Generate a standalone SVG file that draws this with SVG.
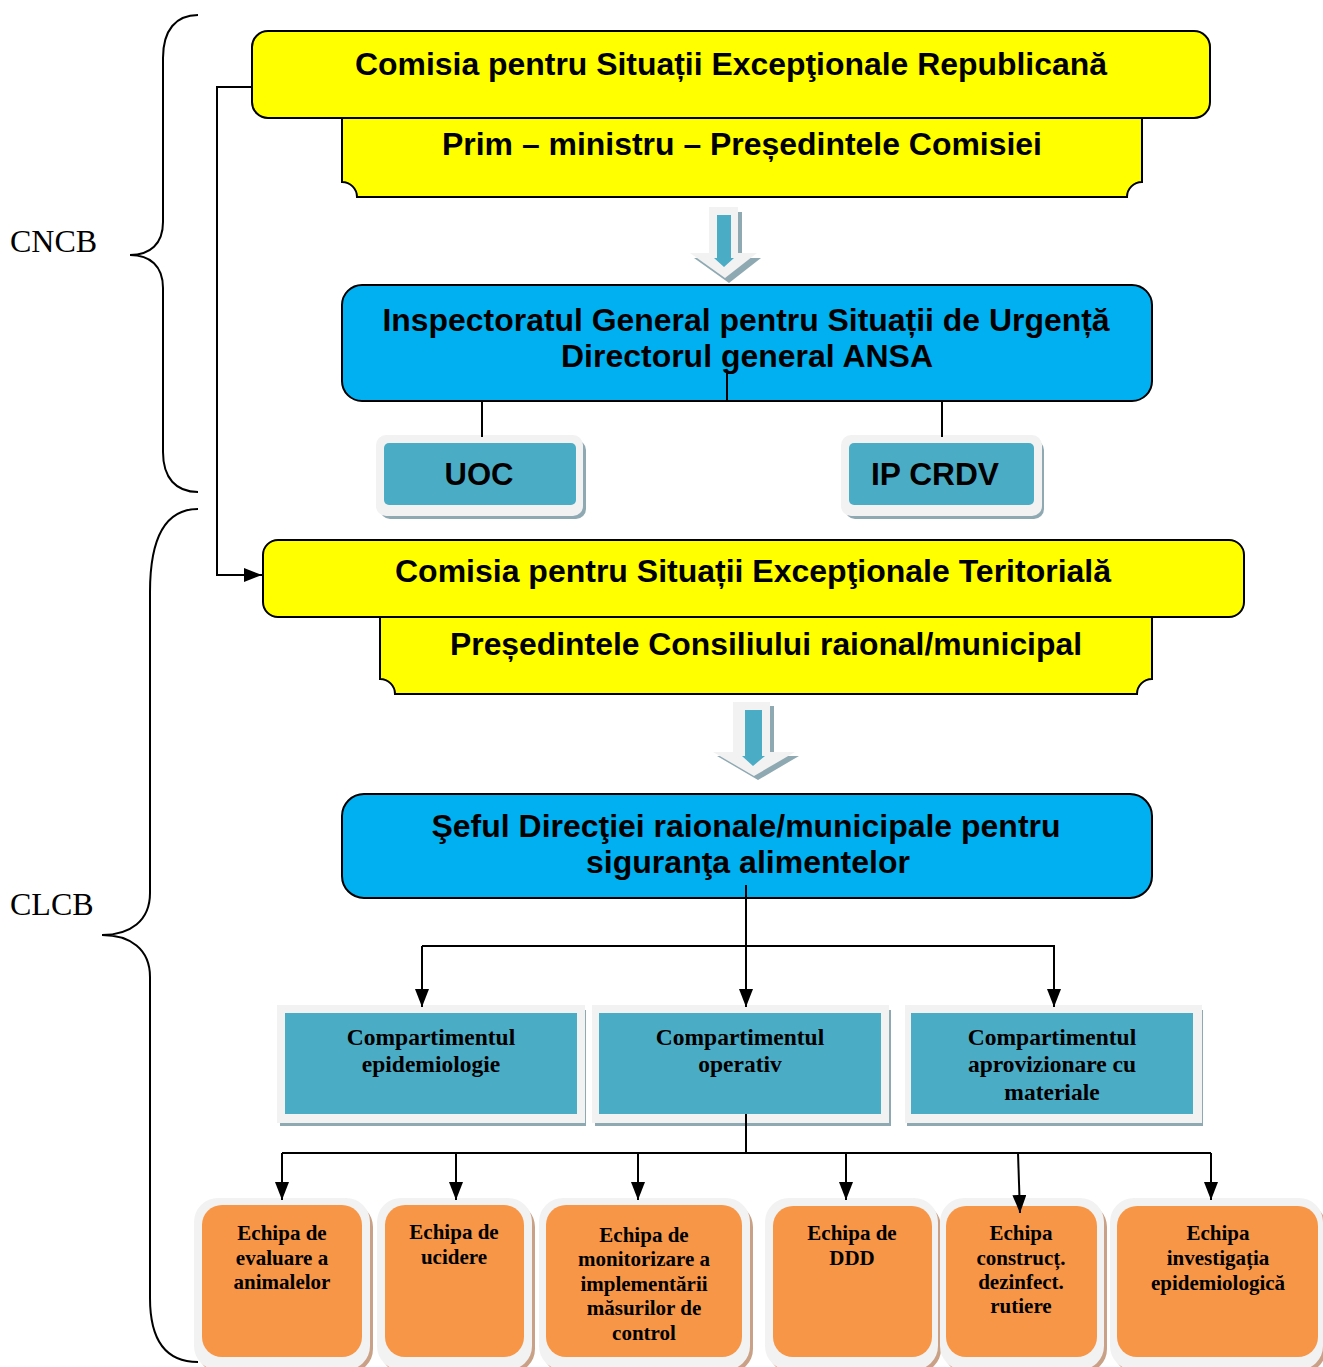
<svg xmlns="http://www.w3.org/2000/svg" width="1323" height="1367" viewBox="0 0 1323 1367">
<defs>
<style>
.sans{font-family:"Liberation Sans",Arial,sans-serif;font-weight:bold;fill:#000;text-anchor:middle}
.big{font-size:31px}
.serif{font-family:"Liberation Serif","Times New Roman",serif;font-weight:bold;fill:#000;text-anchor:middle}
.comp{font-size:23.5px}
.team{font-size:21px}
.lbl{font-family:"Liberation Serif","Times New Roman",serif;font-size:32px;fill:#000}
.yel{fill:#FFFF00;stroke:#000;stroke-width:2}
.blue{fill:#00B0F0;stroke:#000;stroke-width:2}
.light{fill:#F2F2F2}
.teal{fill:#4BACC6}
.orange{fill:#F79646}
.gshadow{fill:#8FA9B3}
.oshadow{fill:#C9A186}
.conn{fill:none;stroke:#000;stroke-width:2}
.brace{fill:none;stroke:#000;stroke-width:2}
</style>
<marker id="ah" viewBox="0 0 18 14" refX="18" refY="7" markerWidth="18" markerHeight="14" markerUnits="userSpaceOnUse" orient="auto">
<path d="M0,0 L18,7 L0,14 z" fill="#000"/>
</marker>
</defs>
<rect width="1323" height="1367" fill="#fff"/>

<!-- braces and labels -->
<g id="cncb">
<path class="brace" d="M198,15 C176,15 163,30 163,58 V222 C163,244 150,255 130,255 C150,255 163,266 163,288 V452 C163,478 176,492 198,492"/>
<text class="lbl" x="10" y="252">CNCB</text>
</g>
<g id="clcb">
<path class="brace" d="M198,509 C166,509 150,536 150,592 V893 C150,921 130,935 102,935 C130,935 150,949 150,977 V1298 C150,1343 168,1362 198,1362"/>
<text class="lbl" x="10" y="915">CLCB</text>
</g>

<!-- top commission -->
<g id="csr">
<path class="yel" d="M342,112 H1142 V182 A15,15 0 0 0 1127,197 H357 A15,15 0 0 0 342,182 Z"/>
<rect class="yel" x="252" y="31" width="958" height="87" rx="16"/>
<text class="sans big" x="731" y="75" textLength="752" lengthAdjust="spacingAndGlyphs">Comisia pentru Situații Excepţionale Republicană</text>
<text class="sans big" x="742" y="155" textLength="600" lengthAdjust="spacingAndGlyphs">Prim – ministru – Președintele Comisiei</text>
</g>

<!-- block arrow 1 -->
<g id="arrow1">
<path class="gshadow" d="M713,212 H742 V258 H761 L729,283 L694,258 H713 Z"/>
<path class="light" d="M709,207 H738 V253 H757 L725,278 L690,253 H709 Z"/>
<path class="teal" d="M717,215 H731 V258 H734 L724,267 L714,258 H717 Z"/>
</g>

<!-- IGSU -->
<g id="igsu">
<rect class="blue" x="342" y="285" width="810" height="116" rx="20"/>
<text class="sans big" x="746" y="331" textLength="727" lengthAdjust="spacingAndGlyphs">Inspectoratul General pentru Situații de Urgență</text>
<text class="sans big" x="747" y="367" textLength="372" lengthAdjust="spacingAndGlyphs">Directorul general ANSA</text>
</g>

<g id="uoc">
<rect class="gshadow" x="380" y="440" width="206" height="79" rx="10"/>
<rect class="light" x="376" y="435" width="207" height="81" rx="10"/>
<rect class="teal" x="384" y="443" width="192" height="62" rx="5"/>
<text class="sans big" x="479" y="485">UOC</text>
</g>
<g id="ipcrdv">
<rect class="gshadow" x="845" y="440" width="199" height="79" rx="10"/>
<rect class="light" x="841" y="435" width="201" height="81" rx="10"/>
<rect class="teal" x="849" y="443" width="185" height="62" rx="5"/>
<text class="sans big" x="935" y="485" textLength="128" lengthAdjust="spacingAndGlyphs">IP CRDV</text>
</g>

<!-- territorial -->
<g id="cst">
<path class="yel" d="M380,610 H1152 V679 A15,15 0 0 0 1137,694 H395 A15,15 0 0 0 380,679 Z"/>
<rect class="yel" x="263" y="540" width="981" height="77" rx="15"/>
<text class="sans big" x="753" y="582" textLength="716" lengthAdjust="spacingAndGlyphs">Comisia pentru Situații Excepţionale Teritorială</text>
<text class="sans big" x="766" y="655" textLength="632" lengthAdjust="spacingAndGlyphs">Președintele Consiliului raional/municipal</text>
</g>

<!-- block arrow 2 -->
<g id="arrow2">
<path class="gshadow" d="M737,706 H774 V756 H799 L758,780 L717,756 H737 Z"/>
<path class="light" d="M733,702 H770 V752 H795 L754,776 L713,752 H733 Z"/>
<path class="teal" d="M745,710 H762 V756 H765 L753,766 L742,756 H745 Z"/>
</g>

<!-- DRSA -->
<g id="drsa">
<rect class="blue" x="342" y="794" width="810" height="104" rx="22"/>
<text class="sans big" x="746" y="837" textLength="629" lengthAdjust="spacingAndGlyphs">Şeful Direcţiei raionale/municipale pentru</text>
<text class="sans big" x="748" y="873" textLength="324" lengthAdjust="spacingAndGlyphs">siguranţa alimentelor</text>
</g>

<!-- compartments -->
<g id="comp1">
<rect class="gshadow" x="280" y="1010" width="306" height="116"/>
<rect class="light" x="277" y="1005" width="308" height="118"/>
<rect class="teal" x="285" y="1013" width="292" height="101"/>
<text class="serif comp" x="431" y="1045">Compartimentul</text>
<text class="serif comp" x="431" y="1072">epidemiologie</text>
</g>
<g id="comp2">
<rect class="gshadow" x="595" y="1010" width="296" height="116"/>
<rect class="light" x="592" y="1005" width="297" height="118"/>
<rect class="teal" x="599" y="1013" width="282" height="101"/>
<text class="serif comp" x="740" y="1045">Compartimentul</text>
<text class="serif comp" x="740" y="1072">operativ</text>
</g>
<g id="comp3">
<rect class="gshadow" x="907" y="1010" width="296" height="116"/>
<rect class="light" x="905" y="1005" width="297" height="118"/>
<rect class="teal" x="911" y="1013" width="282" height="101"/>
<text class="serif comp" x="1052" y="1045">Compartimentul</text>
<text class="serif comp" x="1052" y="1072">aprovizionare cu</text>
<text class="serif comp" x="1052" y="1100">materiale</text>
</g>

<!-- teams -->
<g id="team1">
<rect class="oshadow" x="197" y="1203" width="176" height="170" rx="24"/>
<rect class="light" x="194" y="1198" width="176" height="172" rx="24"/>
<rect class="orange" x="202" y="1205" width="160" height="152" rx="20"/>
<text class="serif team" x="282" y="1240">Echipa de</text>
<text class="serif team" x="282" y="1265">evaluare a</text>
<text class="serif team" x="282" y="1289">animalelor</text>
</g>
<g id="team2">
<rect class="oshadow" x="380" y="1203" width="155" height="170" rx="24"/>
<rect class="light" x="377" y="1198" width="155" height="172" rx="24"/>
<rect class="orange" x="385" y="1205" width="139" height="152" rx="20"/>
<text class="serif team" x="454" y="1239">Echipa de</text>
<text class="serif team" x="454" y="1264">ucidere</text>
</g>
<g id="team3">
<rect class="oshadow" x="542" y="1203" width="211" height="170" rx="24"/>
<rect class="light" x="539" y="1198" width="211" height="172" rx="24"/>
<rect class="orange" x="546" y="1205" width="196" height="152" rx="20"/>
<text class="serif team" x="644" y="1242">Echipa de</text>
<text class="serif team" x="644" y="1266">monitorizare a</text>
<text class="serif team" x="644" y="1291">implementării</text>
<text class="serif team" x="644" y="1315">măsurilor de</text>
<text class="serif team" x="644" y="1340">control</text>
</g>
<g id="team4">
<rect class="oshadow" x="768" y="1203" width="173" height="170" rx="24"/>
<rect class="light" x="765" y="1198" width="173" height="172" rx="24"/>
<rect class="orange" x="773" y="1206" width="159" height="151" rx="20"/>
<text class="serif team" x="852" y="1240">Echipa de</text>
<text class="serif team" x="852" y="1265">DDD</text>
</g>
<g id="team5">
<rect class="oshadow" x="943" y="1203" width="164" height="170" rx="24"/>
<rect class="light" x="940" y="1198" width="164" height="172" rx="24"/>
<rect class="orange" x="946" y="1206" width="151" height="151" rx="20"/>
<text class="serif team" x="1021" y="1240">Echipa</text>
<text class="serif team" x="1021" y="1265">construcț.</text>
<text class="serif team" x="1021" y="1289">dezinfect.</text>
<text class="serif team" x="1021" y="1313">rutiere</text>
</g>
<g id="team6">
<rect class="oshadow" x="1113" y="1203" width="213" height="170" rx="24"/>
<rect class="light" x="1110" y="1198" width="213" height="172" rx="24"/>
<rect class="orange" x="1117" y="1206" width="201" height="151" rx="20"/>
<text class="serif team" x="1218" y="1240">Echipa</text>
<text class="serif team" x="1218" y="1265">investigația</text>
<text class="serif team" x="1218" y="1290">epidemiologică</text>
</g>

<!-- connectors -->
<g id="connectors">
<polyline class="conn" points="252,87 217,87 217,575 262,575" marker-end="url(#ah)"/>
<line class="conn" x1="727" y1="372" x2="727" y2="401"/>
<line class="conn" x1="482" y1="401" x2="482" y2="437"/>
<line class="conn" x1="942" y1="401" x2="942" y2="437"/>
<line class="conn" x1="746" y1="885" x2="746" y2="1007" marker-end="url(#ah)"/>
<polyline class="conn" points="422,946 1054,946 1054,1007" marker-end="url(#ah)"/>
<line class="conn" x1="422" y1="946" x2="422" y2="1007" marker-end="url(#ah)"/>
<line class="conn" x1="746" y1="1114" x2="746" y2="1153"/>
<line class="conn" x1="282" y1="1153" x2="1211" y2="1153"/>
<line class="conn" x1="282" y1="1153" x2="282" y2="1200" marker-end="url(#ah)"/>
<line class="conn" x1="456" y1="1153" x2="456" y2="1200" marker-end="url(#ah)"/>
<line class="conn" x1="638" y1="1153" x2="638" y2="1200" marker-end="url(#ah)"/>
<line class="conn" x1="846" y1="1153" x2="846" y2="1200" marker-end="url(#ah)"/>
<line class="conn" x1="1018" y1="1153" x2="1020" y2="1213" marker-end="url(#ah)"/>
<line class="conn" x1="1211" y1="1153" x2="1211" y2="1200" marker-end="url(#ah)"/>
</g>
</svg>
